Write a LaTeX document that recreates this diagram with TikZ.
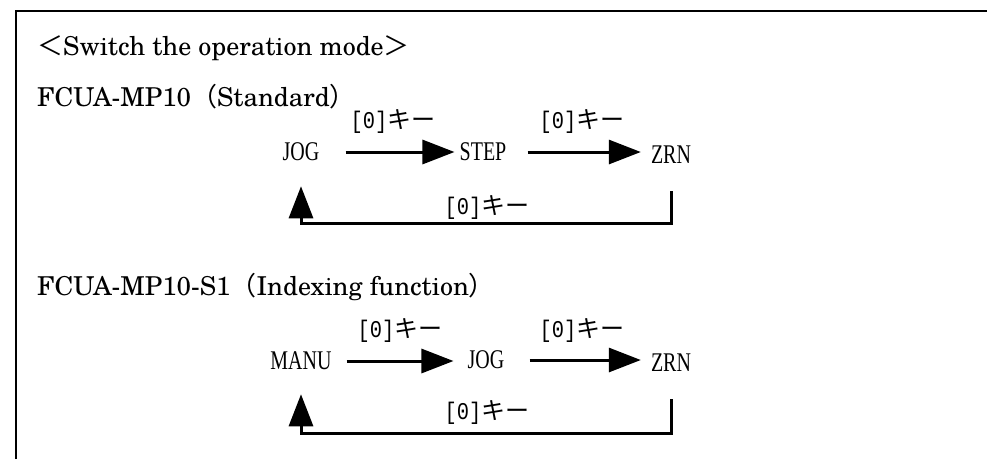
\documentclass[tikz,border=0pt]{standalone}
\usepackage{fontspec}
\setmainfont{TeX Gyre Schola}
\newfontfamily\cjk{Noto Sans CJK JP}
\newfontfamily\modefont[FakeStretch=0.74]{Liberation Serif}
\newfontfamily\numfont[FakeStretch=0.85]{Liberation Mono}
\usetikzlibrary{arrows.meta,positioning}
\usepackage{xcolor}
\definecolor{ink}{HTML}{000000}
\tikzset{
  every node/.style={inner sep=0pt,text=ink},
  heading/.style={anchor=base west,font=\fontsize{26}{30}\selectfont},
  modetxt/.style={font=\modefont\fontsize{27}{27}\selectfont},
  keylbl/.style={font=\fontsize{24}{24}\selectfont},
  flow/.style={-{Triangle[length=32pt,width=24pt]},line width=3pt,draw=ink},
  frame/.style={line width=2pt,draw=ink},
}
\newcommand{\zkey}{{\numfont[0]}{\cjk キー}}

\begin{document}
\begin{tikzpicture}[x=1pt,y=-1pt]
\useasboundingbox (0,0) rectangle (987,459);

% open frame
\draw[frame] (16,459) |- (987,11);

% headings
\node[heading] (title) at (37,55) {{\cjk ＜}Switch the operation mode{\cjk ＞}};
\node[heading] (std) at (37,106) {FCUA-MP10{\cjk （}Standard{\cjk ）}};
\node[heading] (idx) at (37,295) {FCUA-MP10-S1{\cjk （}Indexing function{\cjk ）}};

% standard: JOG -> STEP -> ZRN
\node[modetxt] (jog1) at (301,152) {JOG};
\node[modetxt] (step1) at (483,152) {STEP};
\node[modetxt] (zrn1) at (671,155) {ZRN};
\node[keylbl] (key1a) at (393,121) {\zkey};
\node[keylbl] (key1b) at (582,121) {\zkey};
\node[keylbl] (key1c) at (487,207) {\zkey};
\coordinate (loop1) at (487,223);

\draw[flow,shorten <=26pt,shorten >=5pt] (jog1) -- (step1);
\draw[flow,shorten <=21pt,shorten >=10pt] (step1.east) -- (step1.east -| zrn1.west);
\draw[flow,shorten <=27pt,shorten >=25pt] (zrn1) |- (loop1) -| (jog1);

% indexing: MANU -> JOG -> ZRN
\node[modetxt] (manu) at (301,361) {MANU};
\node[modetxt] (jog2) at (486,360) {JOG};
\node[modetxt] (zrn2) at (671,363) {ZRN};
\node[keylbl] (key2a) at (400,330) {\zkey};
\node[keylbl] (key2b) at (582,330) {\zkey};
\node[keylbl] (key2c) at (487,412) {\zkey};
\coordinate (loop2) at (487,433);

\draw[flow,shorten <=15pt,shorten >=14pt] (manu) -- (manu -| jog2.west);
\draw[flow,shorten <=25pt,shorten >=10pt] (jog2.east) -- (jog2.east -| zrn2.west);
\draw[flow,shorten <=27pt,shorten >=24pt] (zrn2) |- (loop2) -| (manu);

\end{tikzpicture}
\end{document}
